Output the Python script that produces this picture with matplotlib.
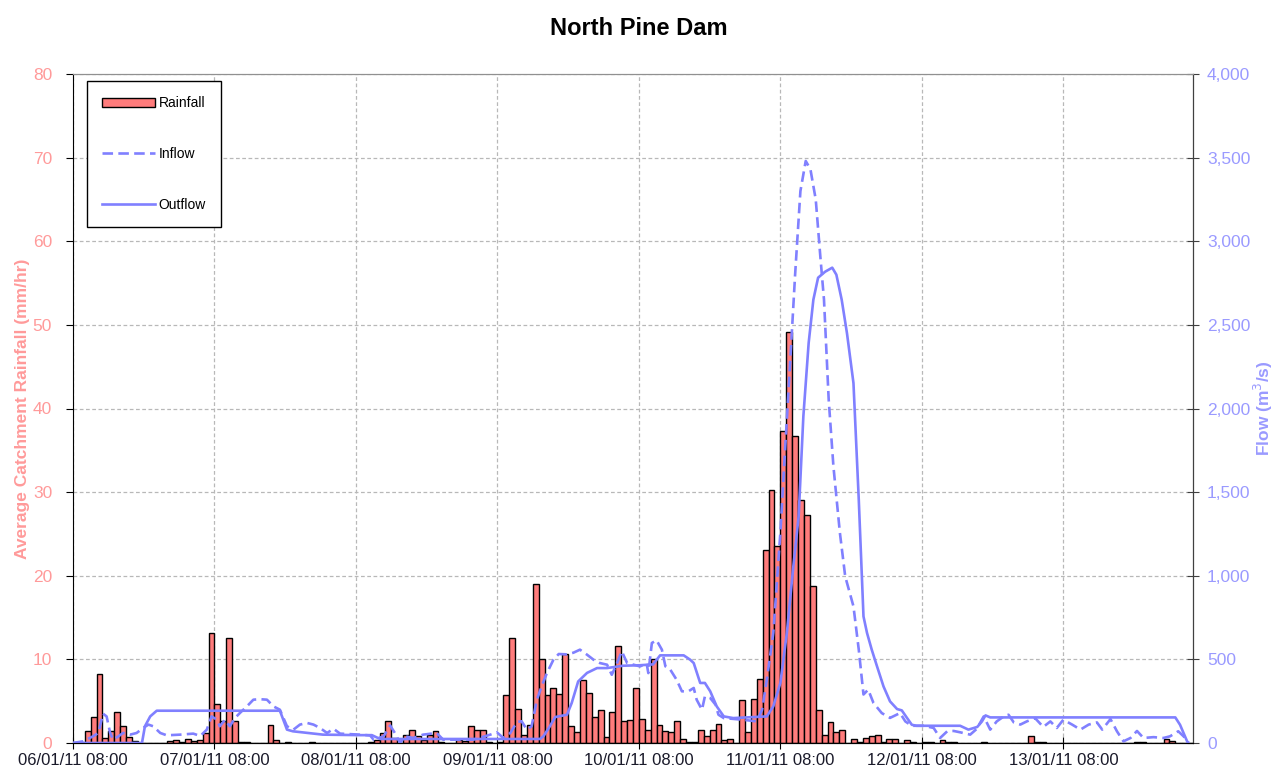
import numpy as np
import matplotlib
matplotlib.use("Agg")
import matplotlib.pyplot as plt

plt.rcParams['font.family'] = ['Liberation Sans', 'DejaVu Sans']

# hourly rainfall (mm/hr), hour 0 = 06/01/11 08:00
rainfall = [
    0, 0, 1.4, 3.1, 8.3, 0.6, 1.4, 3.7, 2.0, 0.7,          # 0-9
    0.2, 0, 0, 0, 0, 0, 0.2, 0.3, 0.1, 0.5,                # 10-19
    0.2, 0.3, 1.2, 13.2, 4.7, 2.6, 12.6, 2.6, 0.1, 0.1,    # 20-29
    0, 0, 0, 2.1, 0.4, 0, 0.1, 0, 0, 0,                    # 30-39
    0.1, 0, 0, 0, 0, 0, 0, 0, 0, 0,                        # 40-49
    0.1, 0.4, 1.2, 2.6, 0.6, 0, 1.0, 1.5, 0.8, 0.4,        # 50-59
    1.0, 1.4, 0.1, 0, 0, 0.4, 0.2, 2.0, 1.6, 1.6,          # 60-69
    0.1, 0, 0.1, 5.7, 12.6, 4.1, 1.0, 2.2, 19.0, 10.0,     # 70-79
    5.7, 6.6, 5.8, 10.6, 2.0, 1.3, 7.5, 6.0, 3.1, 3.9,     # 80-89
    0.7, 3.7, 11.6, 2.6, 2.8, 6.6, 2.9, 1.6, 10.1, 2.2,    # 90-99
    1.4, 1.3, 2.6, 0.5, 0.1, 0.1, 1.6, 0.8, 1.5, 2.3,      # 100-109
    0.4, 0.5, 0, 5.1, 1.3, 5.3, 7.7, 23.1, 30.3, 23.5,     # 110-119
    37.3, 49.1, 36.7, 29.0, 27.3, 18.8, 3.9, 1.0, 2.5, 1.3,  # 120-129
    1.6, 0, 0.5, 0.1, 0.6, 0.8, 0.95, 0.1, 0.5, 0.5,       # 130-139
    0, 0.3, 0.1, 0, 0.1, 0.1, 0, 0.3, 0.1, 0.1,            # 140-149
    0, 0, 0, 0, 0.1, 0, 0, 0, 0, 0,                        # 150-159
    0, 0, 0.8, 0.1, 0.1, 0, 0, 0, 0, 0,                    # 160-169
    0, 0, 0, 0, 0, 0, 0, 0, 0, 0,                          # 170-179
    0.1, 0.1, 0, 0, 0, 0.5, 0.2, 0, 0, 0,                  # 180-189
]

# inflow (m3/s), hours since 06/01/11 08:00
inflow_t = [0, 1.7, 3.4, 4.3, 5.1, 5.7, 6.3, 6.8, 7.7, 8.5, 9.7, 10.8, 11.9, 12.8,
            13.6, 14.8, 15.9, 18.2, 20.4, 21.6, 22.7, 23.5, 24.4, 24.9, 25.8, 26.6,
            27.5, 28.3, 29.5, 30.6, 31.7, 32.9, 34.0, 35.1, 36.3, 37.4, 38.5, 39.7,
            40.8, 41.9, 43.1, 44.2, 45.3, 48.7, 50.4, 51.0, 52.7, 53.8, 54.6, 55.5,
            56.3, 57.7, 59.4, 61.7, 62.8, 67.9, 70.8, 71.9, 73.0, 74.2, 75.3, 76.1,
            77.0, 77.8, 78.7, 79.5, 80.4, 81.5, 82.4, 83.8, 84.9, 86.0, 87.2, 88.3,
            89.4, 90.6, 91.4, 92.3, 93.1, 94.0, 95.1, 96.2, 97.3, 97.6, 98.2, 99.0,
            99.9, 100.5, 101.3, 102.4, 103.3, 104.4, 105.3, 105.8, 106.7, 107.2,
            108.1, 109.0, 109.5, 110.4, 113.7, 116.0, 116.9, 117.7, 118.8, 120.0,
            120.8, 121.7, 122.5, 123.4, 124.3, 125.1, 126.0, 126.8, 127.4, 128.2,
            129.0, 130.1, 131.0, 132.4, 133.3, 134.1, 134.9, 135.8, 137.2, 138.6,
            140.3, 141.2, 142.3, 144.3, 146.0, 147.1, 148.3, 149.4, 150.5, 152.2,
            153.3, 154.5, 155.6, 156.7, 157.9, 158.7, 159.6, 160.7, 161.8, 163.2,
            164.6, 165.8, 166.9, 168.0, 169.5, 170.9, 172.3, 173.7, 174.6, 176.0,
            177.1, 178.2, 179.4, 180.5, 181.6, 183.3, 185.0, 186.1, 187.5, 188.4,
            189.3]
inflow = [0, 10, 40, 60, 175, 159, 60, 20, 40, 60, 50, 60, 90, 110,
          100, 60, 46, 50, 56, 42, 80, 159, 140, 100, 139, 100,
          150, 179, 219, 259, 262, 259, 219, 199, 100, 80, 110, 120,
          110, 90, 60, 85, 56, 50, 45, 20, 40, 105, 60, 0,
          40, 30, 50, 60, 20, 20, 50, 64, 30, 60, 125, 130,
          80, 100, 259, 339, 418, 498, 532, 530, 540, 558, 528, 498,
          478, 468, 408, 478, 548, 478, 468, 458, 478, 418, 598, 614,
          558, 458, 440, 378, 309, 309, 329, 259, 199, 279,
          269, 229, 169, 149, 139, 129, 199, 378, 658, 1256,
          1754, 2300, 2800, 3300, 3480, 3430, 3250, 2900, 2651, 2052,
          1654, 1256, 996, 817, 558, 290, 319, 239, 179, 150,
          179, 129, 103, 103, 90, 30, 70, 72, 64, 50,
          84, 159, 80, 129, 159, 169, 123, 110, 129, 149,
          96, 129, 90, 139, 110, 80, 110, 123, 80, 143,
          70, 10, 30, 72, 30, 35, 30, 40, 70, 40,
          0]

# outflow (m3/s)
outflow_t = [0, 11.7, 12.2, 13.1, 14.2, 35.1, 36.3, 37.3, 42.4, 48.7, 50.7, 52.1,
             79.2, 79.8, 80.9, 81.8, 83.8, 84.6, 85.7, 87.2, 88.9, 90.6, 93.3, 96.2,
             98.4, 99.6, 103.6, 104.7, 105.3, 106.4, 107.2, 108.1, 109.2, 110.4,
             112.0, 117.7, 118.8, 120.0, 121.1, 122.2, 123.1, 123.9, 124.8, 125.6,
             126.4, 127.6, 128.8, 129.5, 130.4, 131.3, 132.4, 133.3, 134.1, 134.7,
             135.5, 136.4, 137.5, 138.6, 139.8, 140.6, 141.5, 142.3, 143.1, 150.5,
             151.9, 153.4, 154.2, 154.8, 155.6, 187.0, 187.8, 189.0]
outflow = [0, 0, 100, 159, 193, 193, 80, 70, 50, 47, 47, 24,
           24, 40, 100, 155, 169, 239, 368, 419, 448, 448, 462, 465,
           470, 524, 524, 498, 478, 359, 359, 309, 219, 159,
           149, 159, 219, 359, 658, 1056, 1355, 1953, 2392, 2651,
           2782, 2818, 2842, 2800, 2651, 2450, 2152, 1455, 757, 658,
           558, 458, 338, 249, 203, 195, 149, 109, 103, 103,
           80, 96, 129, 165, 153, 153, 109, 10]

day_labels = ['06/01/11 08:00', '07/01/11 08:00', '08/01/11 08:00', '09/01/11 08:00',
              '10/01/11 08:00', '11/01/11 08:00', '12/01/11 08:00', '13/01/11 08:00']

rain_col = '#ff7c7c'
flow_col = '#8080ff'
left_txt = '#ff9a9a'
right_txt = '#9a9aff'

fig = plt.figure(figsize=(12.77, 7.71), dpi=100)
ax = fig.add_axes([73 / 1277, 1 - 743 / 771, 1120 / 1277, 669 / 771])
ax2 = ax.twinx()

hours = np.arange(len(rainfall))
ax.bar(hours + 0.5, rainfall, width=1.0, color=rain_col, edgecolor='black',
       linewidth=1.0, label='Rainfall', zorder=2)

ax2.plot(inflow_t, inflow, color=flow_col, lw=1.9, dashes=(4, 2), label='Inflow')
ax2.plot(outflow_t, outflow, color=flow_col, lw=1.9, label='Outflow')

ax.set_xlim(0, len(rainfall))
ax.set_ylim(0, 80)
ax2.set_ylim(0, 4000)
ax.set_xticks(np.arange(0, 169, 24))
ax.set_xticklabels(day_labels, fontsize=12, color='#1a1a2a')
ax.set_yticks(np.arange(0, 81, 10))
ax2.set_yticks(np.arange(0, 4001, 500))
ax2.set_yticklabels([f'{v:,}' for v in range(0, 4001, 500)])

ax.grid(True, color='#b8b8b8', linestyle=(0, (3, 2)), linewidth=0.9)
ax.set_axisbelow(True)

ax.tick_params(axis='y', colors='black', labelcolor=left_txt, labelsize=12.5,
               direction='out', length=5, pad=10)
ax.tick_params(axis='x', direction='inout', length=8, pad=3)
ax2.tick_params(axis='y', colors='#404040', labelcolor=right_txt, labelsize=12.5,
                direction='inout', length=8, pad=6)

for s in ['left', 'bottom']:
    ax.spines[s].set_color('black')
ax.spines['top'].set_color('#909090')
ax2.spines['top'].set_color('#909090')
ax2.spines['right'].set_color('#404040')
ax2.spines['left'].set_visible(False)

ax.set_ylabel('Average Catchment Rainfall (mm/hr)', color=left_txt, fontsize=12.5,
              fontweight='bold', labelpad=2)
ax2.set_ylabel('Flow (m$^3$/s)', color=right_txt, fontsize=12.5,
               fontweight='bold', labelpad=1)
fig.suptitle('North Pine Dam', fontsize=17, fontweight='bold', y=0.978)

h1, l1 = ax.get_legend_handles_labels()
h2, l2 = ax2.get_legend_handles_labels()
leg = ax2.legend(h1 + h2, l1 + l2, loc='upper left', bbox_to_anchor=(0.0125, 0.9895),
                 borderaxespad=0, fontsize=10, fancybox=False, edgecolor='black',
                 framealpha=1, handlelength=3.8, handletextpad=0.25,
                 labelspacing=2.65, borderpad=1.1)
leg.get_frame().set_linewidth(1.0)

fig.savefig('out.png', dpi=100)
